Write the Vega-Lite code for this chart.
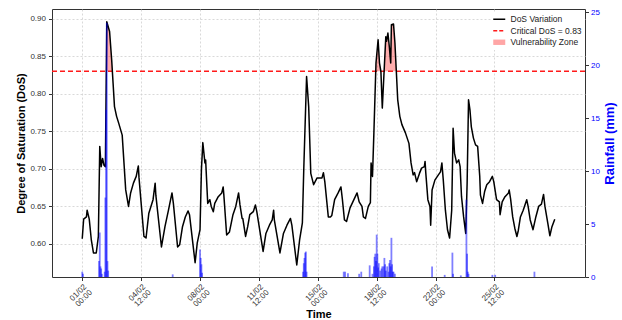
{
  "$schema": "https://vega.github.io/schema/vega-lite/v6.json",
  "width": 533,
  "height": 268,
  "autosize": {"type": "none"},
  "padding": {"left": 52, "top": 9, "right": 37, "bottom": 43},
  "background": "white",
  "config": {
    "font": "Liberation Sans",
    "view": {"stroke": "#333333", "strokeWidth": 1},
    "axis": {
      "domain": false,
      "labelFont": "Liberation Sans",
      "titleFont": "Liberation Sans",
      "labelFontSize": 8,
      "labelColor": "#333333",
      "tickColor": "#333333",
      "tickSize": 3.5,
      "gridColor": "#cfcfcf",
      "gridDash": [2, 2],
      "gridWidth": 0.8
    }
  },
  "datasets": {
    "dos": [
      {"t": "2023-02-01 00:00", "dos": 0.607}, {"t": "2023-02-01 02:00", "dos": 0.633}, {"t": "2023-02-01 06:00", "dos": 0.636}, {"t": "2023-02-01 07:00", "dos": 0.645}, {"t": "2023-02-01 10:00", "dos": 0.633}, {"t": "2023-02-01 13:00", "dos": 0.605}, {"t": "2023-02-01 16:00", "dos": 0.588}, {"t": "2023-02-01 20:00", "dos": 0.588}, {"t": "2023-02-01 23:00", "dos": 0.610},
      {"t": "2023-02-02 01:00", "dos": 0.730}, {"t": "2023-02-02 03:00", "dos": 0.703}, {"t": "2023-02-02 05:00", "dos": 0.714}, {"t": "2023-02-02 07:00", "dos": 0.705}, {"t": "2023-02-02 09:00", "dos": 0.703}, {"t": "2023-02-02 11:00", "dos": 0.896}, {"t": "2023-02-02 15:00", "dos": 0.883}, {"t": "2023-02-02 18:00", "dos": 0.845}, {"t": "2023-02-02 20:00", "dos": 0.814}, {"t": "2023-02-02 22:00", "dos": 0.783},
      {"t": "2023-02-03 01:00", "dos": 0.770}, {"t": "2023-02-03 04:00", "dos": 0.761}, {"t": "2023-02-03 09:00", "dos": 0.745}, {"t": "2023-02-03 14:00", "dos": 0.672}, {"t": "2023-02-03 18:00", "dos": 0.650}, {"t": "2023-02-03 21:00", "dos": 0.668},
      {"t": "2023-02-04 01:00", "dos": 0.681}, {"t": "2023-02-04 05:00", "dos": 0.690}, {"t": "2023-02-04 08:00", "dos": 0.704}, {"t": "2023-02-04 09:00", "dos": 0.688}, {"t": "2023-02-04 16:00", "dos": 0.610}, {"t": "2023-02-04 19:00", "dos": 0.608}, {"t": "2023-02-04 23:00", "dos": 0.641},
      {"t": "2023-02-05 05:00", "dos": 0.659}, {"t": "2023-02-05 08:00", "dos": 0.681}, {"t": "2023-02-05 09:00", "dos": 0.665}, {"t": "2023-02-05 17:00", "dos": 0.596}, {"t": "2023-02-05 22:00", "dos": 0.623},
      {"t": "2023-02-06 03:00", "dos": 0.645}, {"t": "2023-02-06 08:00", "dos": 0.668}, {"t": "2023-02-06 10:00", "dos": 0.654}, {"t": "2023-02-06 16:00", "dos": 0.596}, {"t": "2023-02-06 19:00", "dos": 0.599}, {"t": "2023-02-06 23:00", "dos": 0.623},
      {"t": "2023-02-07 03:00", "dos": 0.636}, {"t": "2023-02-07 07:00", "dos": 0.644}, {"t": "2023-02-07 09:00", "dos": 0.639}, {"t": "2023-02-07 17:00", "dos": 0.575}, {"t": "2023-02-07 20:00", "dos": 0.601},
      {"t": "2023-02-08 00:00", "dos": 0.619}, {"t": "2023-02-08 02:00", "dos": 0.699}, {"t": "2023-02-08 04:00", "dos": 0.735}, {"t": "2023-02-08 07:00", "dos": 0.708}, {"t": "2023-02-08 08:00", "dos": 0.712}, {"t": "2023-02-08 11:00", "dos": 0.654}, {"t": "2023-02-08 14:00", "dos": 0.659}, {"t": "2023-02-08 16:00", "dos": 0.650}, {"t": "2023-02-08 19:00", "dos": 0.643}, {"t": "2023-02-08 21:00", "dos": 0.654},
      {"t": "2023-02-09 02:00", "dos": 0.663}, {"t": "2023-02-09 07:00", "dos": 0.668}, {"t": "2023-02-09 09:00", "dos": 0.676}, {"t": "2023-02-09 10:00", "dos": 0.665}, {"t": "2023-02-09 14:00", "dos": 0.612}, {"t": "2023-02-09 18:00", "dos": 0.616}, {"t": "2023-02-09 23:00", "dos": 0.639},
      {"t": "2023-02-10 03:00", "dos": 0.650}, {"t": "2023-02-10 07:00", "dos": 0.668}, {"t": "2023-02-10 09:00", "dos": 0.652}, {"t": "2023-02-10 12:00", "dos": 0.634}, {"t": "2023-02-10 13:00", "dos": 0.634}, {"t": "2023-02-10 17:00", "dos": 0.610}, {"t": "2023-02-10 20:00", "dos": 0.623}, {"t": "2023-02-10 23:00", "dos": 0.639},
      {"t": "2023-02-11 04:00", "dos": 0.643}, {"t": "2023-02-11 07:00", "dos": 0.652}, {"t": "2023-02-11 09:00", "dos": 0.643}, {"t": "2023-02-11 18:00", "dos": 0.590}, {"t": "2023-02-11 22:00", "dos": 0.614},
      {"t": "2023-02-12 03:00", "dos": 0.625}, {"t": "2023-02-12 07:00", "dos": 0.632}, {"t": "2023-02-12 09:00", "dos": 0.645}, {"t": "2023-02-12 10:00", "dos": 0.632}, {"t": "2023-02-12 18:00", "dos": 0.588}, {"t": "2023-02-12 23:00", "dos": 0.614},
      {"t": "2023-02-13 04:00", "dos": 0.625}, {"t": "2023-02-13 09:00", "dos": 0.634}, {"t": "2023-02-13 11:00", "dos": 0.625}, {"t": "2023-02-13 18:00", "dos": 0.572}, {"t": "2023-02-13 22:00", "dos": 0.605},
      {"t": "2023-02-14 02:00", "dos": 0.628}, {"t": "2023-02-14 04:00", "dos": 0.700}, {"t": "2023-02-14 08:00", "dos": 0.823}, {"t": "2023-02-14 11:00", "dos": 0.783}, {"t": "2023-02-14 14:00", "dos": 0.694}, {"t": "2023-02-14 18:00", "dos": 0.679}, {"t": "2023-02-14 23:00", "dos": 0.688},
      {"t": "2023-02-15 06:00", "dos": 0.688}, {"t": "2023-02-15 08:00", "dos": 0.695}, {"t": "2023-02-15 10:00", "dos": 0.683}, {"t": "2023-02-15 15:00", "dos": 0.636}, {"t": "2023-02-15 18:00", "dos": 0.636}, {"t": "2023-02-15 20:00", "dos": 0.638},
      {"t": "2023-02-16 00:00", "dos": 0.659}, {"t": "2023-02-16 05:00", "dos": 0.668}, {"t": "2023-02-16 09:00", "dos": 0.676}, {"t": "2023-02-16 11:00", "dos": 0.660}, {"t": "2023-02-16 14:00", "dos": 0.632}, {"t": "2023-02-16 17:00", "dos": 0.630}, {"t": "2023-02-16 22:00", "dos": 0.648},
      {"t": "2023-02-17 02:00", "dos": 0.656}, {"t": "2023-02-17 08:00", "dos": 0.668}, {"t": "2023-02-17 11:00", "dos": 0.656}, {"t": "2023-02-17 15:00", "dos": 0.650}, {"t": "2023-02-17 17:00", "dos": 0.636}, {"t": "2023-02-17 20:00", "dos": 0.634},
      {"t": "2023-02-18 00:00", "dos": 0.650}, {"t": "2023-02-18 03:00", "dos": 0.655}, {"t": "2023-02-18 04:00", "dos": 0.708}, {"t": "2023-02-18 06:00", "dos": 0.690}, {"t": "2023-02-18 08:00", "dos": 0.748}, {"t": "2023-02-18 11:00", "dos": 0.841}, {"t": "2023-02-18 14:00", "dos": 0.872}, {"t": "2023-02-18 16:00", "dos": 0.841}, {"t": "2023-02-18 18:00", "dos": 0.830}, {"t": "2023-02-18 20:00", "dos": 0.781}, {"t": "2023-02-18 22:00", "dos": 0.819},
      {"t": "2023-02-19 01:00", "dos": 0.876}, {"t": "2023-02-19 02:00", "dos": 0.870}, {"t": "2023-02-19 04:00", "dos": 0.881}, {"t": "2023-02-19 06:00", "dos": 0.863}, {"t": "2023-02-19 08:00", "dos": 0.841}, {"t": "2023-02-19 09:00", "dos": 0.892}, {"t": "2023-02-19 12:00", "dos": 0.893}, {"t": "2023-02-19 14:00", "dos": 0.868}, {"t": "2023-02-19 16:00", "dos": 0.830}, {"t": "2023-02-19 18:00", "dos": 0.792}, {"t": "2023-02-19 21:00", "dos": 0.770},
      {"t": "2023-02-20 00:00", "dos": 0.759}, {"t": "2023-02-20 05:00", "dos": 0.748}, {"t": "2023-02-20 10:00", "dos": 0.734}, {"t": "2023-02-20 13:00", "dos": 0.708}, {"t": "2023-02-20 16:00", "dos": 0.692}, {"t": "2023-02-20 18:00", "dos": 0.695}, {"t": "2023-02-20 21:00", "dos": 0.683},
      {"t": "2023-02-21 01:00", "dos": 0.694}, {"t": "2023-02-21 04:00", "dos": 0.701}, {"t": "2023-02-21 08:00", "dos": 0.703}, {"t": "2023-02-21 09:00", "dos": 0.710}, {"t": "2023-02-21 10:00", "dos": 0.695}, {"t": "2023-02-21 13:00", "dos": 0.659}, {"t": "2023-02-21 16:00", "dos": 0.650}, {"t": "2023-02-21 17:00", "dos": 0.625}, {"t": "2023-02-21 19:00", "dos": 0.672}, {"t": "2023-02-21 23:00", "dos": 0.685},
      {"t": "2023-02-22 04:00", "dos": 0.692}, {"t": "2023-02-22 07:00", "dos": 0.696}, {"t": "2023-02-22 09:00", "dos": 0.708}, {"t": "2023-02-22 11:00", "dos": 0.685}, {"t": "2023-02-22 14:00", "dos": 0.645}, {"t": "2023-02-22 17:00", "dos": 0.619}, {"t": "2023-02-22 20:00", "dos": 0.608}, {"t": "2023-02-22 23:00", "dos": 0.645},
      {"t": "2023-02-23 01:00", "dos": 0.754}, {"t": "2023-02-23 03:00", "dos": 0.721}, {"t": "2023-02-23 06:00", "dos": 0.708}, {"t": "2023-02-23 09:00", "dos": 0.712}, {"t": "2023-02-23 11:00", "dos": 0.703}, {"t": "2023-02-23 13:00", "dos": 0.663}, {"t": "2023-02-23 16:00", "dos": 0.636}, {"t": "2023-02-23 19:00", "dos": 0.614}, {"t": "2023-02-23 21:00", "dos": 0.681}, {"t": "2023-02-23 23:00", "dos": 0.792},
      {"t": "2023-02-24 01:00", "dos": 0.779}, {"t": "2023-02-24 03:00", "dos": 0.756}, {"t": "2023-02-24 06:00", "dos": 0.741}, {"t": "2023-02-24 09:00", "dos": 0.732}, {"t": "2023-02-24 12:00", "dos": 0.730}, {"t": "2023-02-24 15:00", "dos": 0.690}, {"t": "2023-02-24 16:00", "dos": 0.665}, {"t": "2023-02-24 19:00", "dos": 0.654}, {"t": "2023-02-24 22:00", "dos": 0.670},
      {"t": "2023-02-25 01:00", "dos": 0.679}, {"t": "2023-02-25 05:00", "dos": 0.683}, {"t": "2023-02-25 09:00", "dos": 0.690}, {"t": "2023-02-25 11:00", "dos": 0.683}, {"t": "2023-02-25 15:00", "dos": 0.659}, {"t": "2023-02-25 19:00", "dos": 0.656}, {"t": "2023-02-25 20:00", "dos": 0.639}, {"t": "2023-02-25 23:00", "dos": 0.656},
      {"t": "2023-02-26 03:00", "dos": 0.663}, {"t": "2023-02-26 08:00", "dos": 0.668}, {"t": "2023-02-26 09:00", "dos": 0.672}, {"t": "2023-02-26 11:00", "dos": 0.660}, {"t": "2023-02-26 14:00", "dos": 0.636}, {"t": "2023-02-26 17:00", "dos": 0.621}, {"t": "2023-02-26 20:00", "dos": 0.610}, {"t": "2023-02-26 22:00", "dos": 0.618},
      {"t": "2023-02-27 01:00", "dos": 0.636}, {"t": "2023-02-27 05:00", "dos": 0.645}, {"t": "2023-02-27 10:00", "dos": 0.659}, {"t": "2023-02-27 12:00", "dos": 0.650}, {"t": "2023-02-27 15:00", "dos": 0.632}, {"t": "2023-02-27 19:00", "dos": 0.619}, {"t": "2023-02-27 23:00", "dos": 0.636},
      {"t": "2023-02-28 03:00", "dos": 0.650}, {"t": "2023-02-28 07:00", "dos": 0.653}, {"t": "2023-02-28 10:00", "dos": 0.666}, {"t": "2023-02-28 12:00", "dos": 0.650}, {"t": "2023-02-28 16:00", "dos": 0.628}, {"t": "2023-02-28 19:00", "dos": 0.611}, {"t": "2023-02-28 22:00", "dos": 0.623},
      {"t": "2023-03-01 02:00", "dos": 0.633}
    ],
    "zone": [
      {"t": "2023-02-02 10:19", "dos": 0.830, "zone": "Z1"}, {"t": "2023-02-02 11:00", "dos": 0.896, "zone": "Z1"}, {"t": "2023-02-02 15:00", "dos": 0.883, "zone": "Z1"}, {"t": "2023-02-02 18:00", "dos": 0.845, "zone": "Z1"}, {"t": "2023-02-02 18:58", "dos": 0.830, "zone": "Z1"},
      {"t": "2023-02-18 10:39", "dos": 0.830, "zone": "Z2"}, {"t": "2023-02-18 11:00", "dos": 0.841, "zone": "Z2"}, {"t": "2023-02-18 14:00", "dos": 0.872, "zone": "Z2"}, {"t": "2023-02-18 16:00", "dos": 0.841, "zone": "Z2"}, {"t": "2023-02-18 18:00", "dos": 0.830, "zone": "Z2"},
      {"t": "2023-02-18 22:35", "dos": 0.830, "zone": "Z3"}, {"t": "2023-02-19 01:00", "dos": 0.876, "zone": "Z3"}, {"t": "2023-02-19 02:00", "dos": 0.870, "zone": "Z3"}, {"t": "2023-02-19 04:00", "dos": 0.881, "zone": "Z3"}, {"t": "2023-02-19 06:00", "dos": 0.863, "zone": "Z3"}, {"t": "2023-02-19 08:00", "dos": 0.841, "zone": "Z3"}, {"t": "2023-02-19 09:00", "dos": 0.892, "zone": "Z3"}, {"t": "2023-02-19 12:00", "dos": 0.893, "zone": "Z3"}, {"t": "2023-02-19 14:00", "dos": 0.868, "zone": "Z3"}, {"t": "2023-02-19 16:00", "dos": 0.830, "zone": "Z3"}
    ],
    "rain": [
      {"t": "2023-02-01 00:00", "mm": 0.5}, {"t": "2023-02-01 01:00", "mm": 0.3},
      {"t": "2023-02-02 00:00", "mm": 1.5}, {"t": "2023-02-02 01:00", "mm": 4.2}, {"t": "2023-02-02 02:00", "mm": 1.0}, {"t": "2023-02-02 03:00", "mm": 0.8}, {"t": "2023-02-02 04:00", "mm": 0.3},
      {"t": "2023-02-02 08:00", "mm": 0.5}, {"t": "2023-02-02 09:00", "mm": 7.5}, {"t": "2023-02-02 10:00", "mm": 15.8}, {"t": "2023-02-02 11:00", "mm": 24.0}, {"t": "2023-02-02 12:00", "mm": 1.5}, {"t": "2023-02-02 13:00", "mm": 0.6},
      {"t": "2023-02-06 09:00", "mm": 0.25},
      {"t": "2023-02-08 00:00", "mm": 2.6}, {"t": "2023-02-08 01:00", "mm": 1.8}, {"t": "2023-02-08 02:00", "mm": 1.2}, {"t": "2023-02-08 03:00", "mm": 0.4},
      {"t": "2023-02-14 03:00", "mm": 0.5}, {"t": "2023-02-14 04:00", "mm": 1.3}, {"t": "2023-02-14 05:00", "mm": 1.8}, {"t": "2023-02-14 06:00", "mm": 2.3}, {"t": "2023-02-14 07:00", "mm": 2.4}, {"t": "2023-02-14 08:00", "mm": 0.5},
      {"t": "2023-02-16 13:00", "mm": 0.5}, {"t": "2023-02-16 15:00", "mm": 0.5}, {"t": "2023-02-16 19:00", "mm": 0.35},
      {"t": "2023-02-17 11:00", "mm": 0.3}, {"t": "2023-02-17 14:00", "mm": 0.5},
      {"t": "2023-02-18 02:00", "mm": 1.1}, {"t": "2023-02-18 06:00", "mm": 0.3}, {"t": "2023-02-18 08:00", "mm": 1.0}, {"t": "2023-02-18 09:00", "mm": 1.9}, {"t": "2023-02-18 10:00", "mm": 2.2}, {"t": "2023-02-18 11:00", "mm": 1.5}, {"t": "2023-02-18 12:00", "mm": 4.0}, {"t": "2023-02-18 13:00", "mm": 2.2}, {"t": "2023-02-18 14:00", "mm": 0.9}, {"t": "2023-02-18 15:00", "mm": 1.3}, {"t": "2023-02-18 17:00", "mm": 0.6}, {"t": "2023-02-18 19:00", "mm": 0.8}, {"t": "2023-02-18 20:00", "mm": 1.0}, {"t": "2023-02-18 22:00", "mm": 1.0}, {"t": "2023-02-18 23:00", "mm": 1.8},
      {"t": "2023-02-19 00:00", "mm": 1.2}, {"t": "2023-02-19 01:00", "mm": 0.6}, {"t": "2023-02-19 03:00", "mm": 1.0}, {"t": "2023-02-19 05:00", "mm": 0.5}, {"t": "2023-02-19 06:00", "mm": 1.3}, {"t": "2023-02-19 07:00", "mm": 1.6}, {"t": "2023-02-19 08:00", "mm": 1.0}, {"t": "2023-02-19 09:00", "mm": 3.7}, {"t": "2023-02-19 10:00", "mm": 1.2}, {"t": "2023-02-19 11:00", "mm": 0.5}, {"t": "2023-02-19 12:00", "mm": 0.5}, {"t": "2023-02-19 14:00", "mm": 0.3},
      {"t": "2023-02-21 19:00", "mm": 1.0},
      {"t": "2023-02-22 13:00", "mm": 0.2},
      {"t": "2023-02-23 00:00", "mm": 2.3}, {"t": "2023-02-23 01:00", "mm": 0.3}, {"t": "2023-02-23 12:00", "mm": 0.15}, {"t": "2023-02-23 20:00", "mm": 7.3}, {"t": "2023-02-23 21:00", "mm": 2.2}, {"t": "2023-02-23 22:00", "mm": 0.5}, {"t": "2023-02-23 23:00", "mm": 0.3},
      {"t": "2023-02-25 09:00", "mm": 0.2}, {"t": "2023-02-25 13:00", "mm": 0.2},
      {"t": "2023-02-27 21:00", "mm": 0.5}
    ],
    "critical": [{"level": 0.83}]
  },
  "layer": [
    {
      "layer": [
        {
          "data": {"name": "zone", "format": {"parse": {"t": "utc:'%Y-%m-%d %H:%M'"}}},
          "mark": {"type": "area", "color": "#ff0000", "opacity": 0.32},
          "encoding": {
            "x": {
              "field": "t", "type": "temporal", "title": "Time",
              "scale": {"type": "utc", "domain": [{"year": 2023, "month": 1, "date": 30, "hours": 12, "utc": true}, {"year": 2023, "month": 3, "date": 2, "hours": 14, "utc": true}]},
              "axis": {
                "values": [
                  {"year": 2023, "month": 2, "date": 1, "hours": 0, "utc": true},
                  {"year": 2023, "month": 2, "date": 4, "hours": 12, "utc": true},
                  {"year": 2023, "month": 2, "date": 8, "hours": 0, "utc": true},
                  {"year": 2023, "month": 2, "date": 11, "hours": 12, "utc": true},
                  {"year": 2023, "month": 2, "date": 15, "hours": 0, "utc": true},
                  {"year": 2023, "month": 2, "date": 18, "hours": 12, "utc": true},
                  {"year": 2023, "month": 2, "date": 22, "hours": 0, "utc": true},
                  {"year": 2023, "month": 2, "date": 25, "hours": 12, "utc": true}
                ],
                "labelExpr": "[utcFormat(datum.value, '%d/%m'), utcFormat(datum.value, '%H:%M')]",
                "labelAngle": -45, "labelAlign": "right", "labelBaseline": "top", "labelLineHeight": 8, "labelPadding": 2, "labelOverlap": false,
                "grid": true, "titleFontSize": 11, "titleFontWeight": "bold", "titleColor": "#000000", "titleBaseline": "middle", "titleY": 37
              }
            },
            "y": {"field": "dos", "type": "quantitative", "title": "Degree of Saturation (DoS)"},
            "y2": {"datum": 0.83},
            "detail": {"field": "zone"}
          }
        },
        {
          "data": {"name": "critical"},
          "mark": {"type": "rule", "color": "#ff1a1a", "strokeDash": [5, 3], "strokeWidth": 1.5},
          "encoding": {
            "y": {"field": "level", "type": "quantitative", "title": "Degree of Saturation (DoS)"}
          }
        },
        {
          "data": {"name": "dos", "format": {"parse": {"t": "utc:'%Y-%m-%d %H:%M'"}}},
          "mark": {"type": "line", "strokeWidth": 1.5, "strokeJoin": "round"},
          "encoding": {
            "x": {
              "field": "t", "type": "temporal", "title": "Time",
              "scale": {"type": "utc", "domain": [{"year": 2023, "month": 1, "date": 30, "hours": 12, "utc": true}, {"year": 2023, "month": 3, "date": 2, "hours": 14, "utc": true}]},
              "axis": {
                "values": [
                  {"year": 2023, "month": 2, "date": 1, "hours": 0, "utc": true},
                  {"year": 2023, "month": 2, "date": 4, "hours": 12, "utc": true},
                  {"year": 2023, "month": 2, "date": 8, "hours": 0, "utc": true},
                  {"year": 2023, "month": 2, "date": 11, "hours": 12, "utc": true},
                  {"year": 2023, "month": 2, "date": 15, "hours": 0, "utc": true},
                  {"year": 2023, "month": 2, "date": 18, "hours": 12, "utc": true},
                  {"year": 2023, "month": 2, "date": 22, "hours": 0, "utc": true},
                  {"year": 2023, "month": 2, "date": 25, "hours": 12, "utc": true}
                ],
                "labelExpr": "[utcFormat(datum.value, '%d/%m'), utcFormat(datum.value, '%H:%M')]",
                "labelAngle": -45, "labelAlign": "right", "labelBaseline": "top", "labelLineHeight": 8, "labelPadding": 2, "labelOverlap": false,
                "grid": true, "titleFontSize": 11, "titleFontWeight": "bold", "titleColor": "#000000", "titleBaseline": "middle", "titleY": 37
              }
            },
            "y": {
              "field": "dos", "type": "quantitative", "title": "Degree of Saturation (DoS)",
              "scale": {"domain": [0.556, 0.913], "nice": false, "zero": false},
              "axis": {
                "values": [0.6, 0.65, 0.7, 0.75, 0.8, 0.85, 0.9],
                "format": ".2f",
                "grid": true,
                "labelPadding": 3,
                "titleFontSize": 11,
                "titleFontWeight": "bold",
                "titleColor": "#000000",
                "titlePadding": 3
              }
            },
            "color": {
              "datum": "DoS Variation",
              "scale": {"domain": ["DoS Variation", "Critical DoS = 0.83", "Vulnerability Zone"], "range": ["#000000", "#ff1a1a", "#ffa6a6"]},
              "legend": {
                "title": null,
                "orient": "none",
                "legendX": 440,
                "legendY": 3,
                "padding": 3,
                "fillColor": "white",
                "symbolType": "stroke",
                "symbolSize": 144,
                "symbolStrokeWidth": 1.5,
                "labelFont": "Liberation Sans",
                "labelFontSize": 8.5,
                "labelColor": "#222222",
                "labelOffset": 7,
                "rowPadding": 2.5,
                "encode": {
                  "symbols": {
                    "update": {
                      "shape": {"signal": "datum.value === 'Vulnerability Zone' ? 'M-1,-0.45H1V0.45H-1Z' : 'stroke'"},
                      "fill": {"signal": "datum.value === 'Vulnerability Zone' ? '#ffa6a6' : 'transparent'"},
                      "strokeWidth": {"signal": "datum.value === 'Vulnerability Zone' ? 0 : 1.5"},
                      "strokeDash": {"signal": "datum.value === 'Critical DoS = 0.83' ? [4, 2] : [1, 0]"}
                    }
                  }
                }
              }
            }
          }
        }
      ]
    },
    {
      "data": {"name": "rain", "format": {"parse": {"t": "utc:'%Y-%m-%d %H:%M'"}}},
      "mark": {"type": "bar", "color": "#0000ff", "opacity": 0.5, "size": 1.8},
      "encoding": {
        "x": {
          "field": "t", "type": "temporal", "title": "Time",
          "scale": {"type": "utc", "domain": [{"year": 2023, "month": 1, "date": 30, "hours": 12, "utc": true}, {"year": 2023, "month": 3, "date": 2, "hours": 14, "utc": true}]},
          "axis": {
            "values": [
              {"year": 2023, "month": 2, "date": 1, "hours": 0, "utc": true},
              {"year": 2023, "month": 2, "date": 4, "hours": 12, "utc": true},
              {"year": 2023, "month": 2, "date": 8, "hours": 0, "utc": true},
              {"year": 2023, "month": 2, "date": 11, "hours": 12, "utc": true},
              {"year": 2023, "month": 2, "date": 15, "hours": 0, "utc": true},
              {"year": 2023, "month": 2, "date": 18, "hours": 12, "utc": true},
              {"year": 2023, "month": 2, "date": 22, "hours": 0, "utc": true},
              {"year": 2023, "month": 2, "date": 25, "hours": 12, "utc": true}
            ],
            "labelExpr": "[utcFormat(datum.value, '%d/%m'), utcFormat(datum.value, '%H:%M')]",
            "labelAngle": -45, "labelAlign": "right", "labelBaseline": "top", "labelLineHeight": 8, "labelPadding": 2, "labelOverlap": false,
            "grid": true, "titleFontSize": 11, "titleFontWeight": "bold", "titleColor": "#000000", "titleBaseline": "middle", "titleY": 37
          }
        },
        "y": {
          "field": "mm", "type": "quantitative", "title": "Rainfall (mm)",
          "scale": {"domain": [0, 25.3], "nice": false},
          "axis": {
            "orient": "right",
            "values": [0, 5, 10, 15, 20, 25],
            "grid": false,
            "labelColor": "#0000ff",
            "labelPadding": 2,
            "titleColor": "#0000ff",
            "titleFontSize": 13,
            "titleFontWeight": "bold",
            "titleAngle": 270,
            "titleBaseline": "top",
            "titlePadding": 4
          }
        }
      }
    }
  ],
  "resolve": {"scale": {"y": "independent"}}
}
